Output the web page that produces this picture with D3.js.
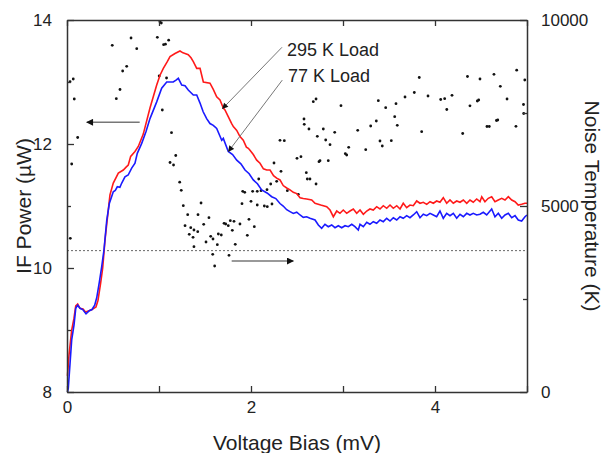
<html>
  <head>
    <title>IF power and noise temperature</title>
    <meta charset="utf-8" />
    <script src="https://cdnjs.cloudflare.com/ajax/libs/d3/7.6.1/d3.min.js"></script>
    <style>
      body { margin: 0; background: #fff; }
      svg { width: 606px; height: 453px; font-family: "Liberation Sans", Arial, sans-serif; }
      .axis path, .axis line { stroke: #333; }
      .axis path { stroke-width: 1.5; }
      .axis text { font-size: 17px; fill: #222; font-family: "Liberation Sans", Arial, sans-serif; }
    </style>
  </head>
  <body>
    <svg></svg>
  </body>

  <script>
    // IF power (uW) vs bias voltage (mV), 295 K load
    let hotLoad = [
      [0.005, 8.26], [0.022, 8.6], [0.051, 9.0], [0.076, 9.19], [0.095, 9.39], [0.116, 9.42],
      [0.141, 9.35], [0.174, 9.34], [0.201, 9.29], [0.239, 9.31], [0.272, 9.33], [0.315, 9.37],
      [0.337, 9.48], [0.366, 9.76], [0.388, 10.0], [0.413, 10.45], [0.449, 10.94], [0.467, 11.18],
      [0.503, 11.37], [0.558, 11.53], [0.612, 11.58], [0.645, 11.63], [0.666, 11.66], [0.692, 11.8],
      [0.739, 11.88], [0.775, 11.96], [0.829, 12.16], [0.902, 12.58], [0.975, 12.95], [1.011, 13.11],
      [1.047, 13.22], [1.087, 13.32], [1.12, 13.41], [1.174, 13.46], [1.228, 13.5], [1.261, 13.47],
      [1.283, 13.46], [1.318, 13.44], [1.348, 13.39], [1.373, 13.33], [1.41, 13.22], [1.446, 13.22],
      [1.482, 13.0], [1.554, 12.98], [1.59, 12.88], [1.627, 12.76], [1.663, 12.71], [1.699, 12.58],
      [1.717, 12.55], [1.75, 12.45], [1.79, 12.33], [1.808, 12.28], [1.845, 12.22], [1.88, 12.12],
      [1.916, 12.06], [1.95, 11.95], [1.971, 11.93], [1.989, 11.9], [2.025, 11.83], [2.062, 11.74],
      [2.098, 11.69], [2.135, 11.6], [2.171, 11.58], [2.207, 11.58], [2.245, 11.49], [2.279, 11.45],
      [2.315, 11.42], [2.35, 11.33], [2.388, 11.29], [2.424, 11.26], [2.46, 11.22], [2.497, 11.2],
      [2.533, 11.134], [2.568, 11.12], [2.605, 11.113], [2.66, 11.097], [2.696, 11.044], [2.758, 11.016],
      [2.823, 10.989], [2.859, 10.935], [2.895, 10.827], [2.932, 10.919], [2.967, 10.882], [3.003, 10.935],
      [3.04, 10.882], [3.076, 10.919], [3.112, 10.952], [3.149, 10.882], [3.185, 10.935], [3.221, 10.866],
      [3.258, 10.919], [3.293, 10.952], [3.329, 10.935], [3.366, 10.989], [3.402, 10.952], [3.438, 11.005],
      [3.475, 10.963], [3.511, 11.016], [3.547, 10.963], [3.584, 11.005], [3.62, 10.952], [3.655, 11.044],
      [3.692, 10.973], [3.728, 11.016], [3.764, 11.005], [3.801, 11.081], [3.837, 11.044], [3.873, 11.06],
      [3.91, 11.027], [3.946, 11.069], [3.982, 11.044], [4.018, 11.081], [4.054, 11.06], [4.09, 11.134],
      [4.127, 11.044], [4.163, 11.097], [4.199, 11.044], [4.236, 11.081], [4.272, 11.06], [4.308, 11.097],
      [4.345, 11.044], [4.38, 11.097], [4.416, 11.06], [4.453, 11.113], [4.489, 11.069], [4.508, 11.15],
      [4.543, 11.069], [4.579, 11.124], [4.616, 11.15], [4.652, 11.069], [4.688, 11.097], [4.725, 11.124],
      [4.761, 11.097], [4.797, 11.15], [4.834, 11.097], [4.87, 11.069], [4.905, 11.016], [4.942, 11.027],
      [4.978, 11.044], [5.0, 11.044]
    ];

    // IF power (uW) vs bias voltage (mV), 77 K load
    let coldLoad = [
      [0.005, 8.0], [0.014, 8.06], [0.051, 8.84], [0.076, 9.08], [0.095, 9.35], [0.116, 9.4],
      [0.141, 9.35], [0.171, 9.33], [0.207, 9.26], [0.242, 9.31], [0.272, 9.33], [0.301, 9.4],
      [0.323, 9.52], [0.351, 9.77], [0.377, 10.02], [0.402, 10.29], [0.432, 10.77], [0.46, 11.04],
      [0.503, 11.23], [0.525, 11.25], [0.547, 11.31], [0.575, 11.3], [0.595, 11.37], [0.63, 11.47],
      [0.665, 11.5], [0.703, 11.61], [0.739, 11.69], [0.764, 11.85], [0.812, 12.01], [0.859, 12.2],
      [0.902, 12.41], [0.975, 12.68], [1.029, 12.9], [1.084, 13.0], [1.12, 13.0], [1.155, 13.0],
      [1.185, 13.03], [1.21, 13.06], [1.247, 12.95], [1.283, 12.94], [1.318, 12.87], [1.373, 12.79],
      [1.41, 12.79], [1.446, 12.66], [1.48, 12.52], [1.518, 12.41], [1.554, 12.33], [1.59, 12.3],
      [1.627, 12.25], [1.682, 12.06], [1.699, 12.09], [1.753, 11.88], [1.8, 11.83], [1.845, 11.74],
      [1.89, 11.68], [1.935, 11.58], [1.98, 11.52], [2.025, 11.42], [2.07, 11.36], [2.116, 11.26],
      [2.174, 11.21], [2.225, 11.15], [2.27, 11.12], [2.315, 11.04], [2.35, 11.0], [2.388, 10.94],
      [2.424, 10.91], [2.46, 10.88], [2.497, 10.9], [2.533, 10.855], [2.568, 10.818], [2.605, 10.827],
      [2.641, 10.802], [2.696, 10.774], [2.732, 10.694], [2.768, 10.64], [2.804, 10.705], [2.84, 10.666],
      [2.877, 10.694], [2.913, 10.65], [2.949, 10.682], [2.986, 10.65], [3.022, 10.682], [3.058, 10.666],
      [3.095, 10.705], [3.13, 10.666], [3.166, 10.613], [3.185, 10.705], [3.221, 10.666], [3.258, 10.737],
      [3.293, 10.705], [3.329, 10.747], [3.366, 10.721], [3.402, 10.774], [3.438, 10.747], [3.475, 10.802],
      [3.511, 10.758], [3.547, 10.811], [3.584, 10.774], [3.62, 10.827], [3.655, 10.802], [3.692, 10.844],
      [3.728, 10.811], [3.764, 10.855], [3.801, 10.908], [3.837, 10.811], [3.873, 10.866], [3.91, 10.844],
      [3.946, 10.882], [3.982, 10.855], [4.018, 10.827], [4.054, 10.919], [4.09, 10.802], [4.127, 10.882],
      [4.163, 10.844], [4.199, 10.882], [4.236, 10.802], [4.272, 10.866], [4.308, 10.827], [4.345, 10.882],
      [4.38, 10.855], [4.416, 10.882], [4.453, 10.855], [4.489, 10.866], [4.525, 10.898], [4.562, 10.855],
      [4.616, 10.952], [4.652, 10.827], [4.688, 10.882], [4.725, 10.802], [4.761, 10.855], [4.797, 10.882],
      [4.834, 10.811], [4.87, 10.844], [4.905, 10.774], [4.942, 10.758], [4.978, 10.827], [5.0, 10.855]
    ];

    // noise temperature (K) vs bias voltage (mV)
    let noiseTemp = [
      [0.033, 8341], [0.068, 8414], [0.079, 7876], [0.116, 6841], [0.051, 6129], [0.036, 4132],
      [0.492, 9320], [0.696, 9516], [0.758, 9228], [0.649, 8755], [0.605, 8629], [0.576, 8132],
      [0.536, 7884], [0.982, 9535], [1.01, 9950], [1.025, 9920], [1.05, 9336], [1.07, 9350],
      [1.105, 9457], [1.002, 8494], [1.082, 8441], [1.036, 7581], [1.136, 6970], [1.182, 6357],
      [1.12, 6169], [1.158, 6102], [1.225, 5640], [1.242, 5422], [1.264, 5008], [1.312, 4766],
      [1.283, 4470], [1.345, 4417], [1.38, 4355], [1.421, 4309], [1.329, 4239], [1.37, 4159],
      [1.38, 3906], [1.424, 4766], [1.457, 5080], [1.543, 4685], [1.486, 4508], [1.707, 4535],
      [1.725, 4516], [1.753, 4470], [1.775, 4605], [1.815, 4589], [1.88, 4516], [1.978, 4642],
      [2.036, 4443], [1.797, 4347], [1.645, 4247], [1.677, 4220], [1.562, 4185], [1.96, 4212],
      [1.511, 4032], [1.587, 4113], [1.634, 3960], [1.829, 3970], [1.761, 3675], [1.584, 3702],
      [1.605, 3387], [1.902, 5062], [2.0, 5126], [2.068, 5027], [2.145, 5000], [2.177, 4981],
      [2.228, 5054], [1.91, 5395], [1.932, 5368], [2.018, 5395], [2.068, 5395], [2.109, 5411],
      [2.174, 5438], [2.395, 5411], [2.514, 5314], [2.084, 5726], [2.214, 5591], [2.279, 5664],
      [2.707, 5591], [2.612, 5726], [2.641, 5726], [2.601, 5895], [2.326, 5933], [2.25, 6156],
      [2.5, 6282], [2.543, 6325], [2.739, 6191], [2.315, 6766], [2.362, 6755], [2.812, 6774],
      [2.721, 6873], [2.63, 7070], [2.786, 7070], [2.579, 7196], [2.576, 7339], [2.677, 7804],
      [2.707, 7876], [2.75, 6218], [2.84, 6218], [2.859, 6648], [2.91, 6981], [2.978, 7696],
      [3.025, 6406], [3.04, 6371], [3.062, 6578], [3.16, 7035], [3.247, 6513], [3.301, 7150],
      [3.362, 7285], [3.384, 7831], [3.402, 6747], [3.427, 6613], [3.464, 7642], [3.525, 6755],
      [3.562, 7400], [3.576, 7750], [3.59, 7169], [3.674, 7930], [3.775, 8051], [3.829, 8454],
      [3.855, 6997], [3.924, 7957], [4.062, 7863], [4.105, 7884], [4.128, 7594], [4.185, 7975],
      [4.301, 6949], [4.353, 8481], [4.38, 7693], [4.46, 7823], [4.475, 7849], [4.489, 8414],
      [4.565, 7137], [4.59, 7137], [4.641, 8540], [4.668, 7298], [4.682, 7312], [4.71, 8218],
      [4.783, 7876], [4.88, 7142], [4.888, 8650], [4.976, 8387], [4.962, 7728], [4.964, 7486]
    ];

    let xTicks = [0, 1, 2, 3, 4, 5];
    let xLabels = [0, 2, 4];
    let powerTicks = [8, 9, 10, 11, 12, 13, 14];
    let powerLabels = [8, 10, 12, 14];
    let tempTicks = [0, 2500, 5000, 7500, 10000];
    let tempLabels = [0, 5000, 10000];
    let refTemp = 3800;

    let svg = d3.select("svg");
    let xScale = d3.scaleLinear().domain([0, 5]).range([67, 527]);
    let yPower = d3.scaleLinear().domain([8, 14]).range([392, 20]);
    let yTemp = d3.scaleLinear().domain([0, 10000]).range([392, 20]);

    // dotted reference line
    svg.append("line")
      .attr("x1", xScale(0)).attr("x2", xScale(5))
      .attr("y1", yTemp(refTemp)).attr("y2", yTemp(refTemp))
      .style("stroke", "#666").style("stroke-width", 1)
      .style("stroke-dasharray", "2,2");

    // noise temperature dots
    svg.append("g")
      .selectAll("circle")
      .data(noiseTemp)
      .enter()
      .append("circle")
      .attr("cx", (d) => xScale(d[0]))
      .attr("cy", (d) => yTemp(d[1]))
      .attr("r", 1.4)
      .style("fill", "#111");

    let line = d3.line().x((d) => xScale(d[0])).y((d) => yPower(d[1]));

    svg.append("path").datum(hotLoad).attr("d", line)
      .style("fill", "none").style("stroke", "#ff1a1a").style("stroke-width", 1.6);
    svg.append("path").datum(coldLoad).attr("d", line)
      .style("fill", "none").style("stroke", "#1a1aff").style("stroke-width", 1.6);

    // axes, ticks pointing inward
    function addAxis(axis, transform) {
      let g = svg.append("g").attr("class", "axis").attr("transform", transform).call(axis);
      g.selectAll(".tick line").style("stroke-width", 1.3);
      return g;
    }
    let fmt = (labels) => (d) => (labels.includes(d) ? d : "");

    addAxis(d3.axisBottom(xScale).tickValues(xTicks).tickSize(-6).tickSizeOuter(0)
      .tickPadding(9).tickFormat(fmt(xLabels)), "translate(0,392)");
    addAxis(d3.axisTop(xScale).tickValues(xTicks).tickSize(-6).tickSizeOuter(0)
      .tickFormat(""), "translate(0,20)");
    let left = addAxis(d3.axisLeft(yPower).tickValues(powerTicks).tickSizeOuter(0)
      .tickPadding(9).tickFormat(fmt(powerLabels)), "translate(67,0)");
    left.selectAll(".tick line").attr("x2", (d) => (powerLabels.includes(d) ? 7 : 4));
    let right = addAxis(d3.axisRight(yTemp).tickValues(tempTicks).tickSizeOuter(0)
      .tickPadding(8).tickFormat(fmt(tempLabels)), "translate(527,0)");
    right.selectAll(".tick line").attr("x2", (d) => (tempLabels.includes(d) ? -7 : -4));

    // arrows
    let defs = svg.append("defs");
    defs.append("marker")
      .attr("id", "head").attr("viewBox", "0 0 10 10")
      .attr("refX", 9).attr("refY", 5)
      .attr("markerWidth", 10).attr("markerHeight", 7)
      .attr("markerUnits", "userSpaceOnUse")
      .attr("orient", "auto")
      .append("path").attr("d", "M0,0L10,5L0,10z").style("fill", "#111");
    defs.append("marker")
      .attr("id", "smallhead").attr("viewBox", "0 0 10 10")
      .attr("refX", 9).attr("refY", 5)
      .attr("markerWidth", 8).attr("markerHeight", 6)
      .attr("markerUnits", "userSpaceOnUse")
      .attr("orient", "auto")
      .append("path").attr("d", "M0,0L10,5L0,10z").style("fill", "#111");

    let arrows = [
      { x1: 0.79, y1: yPower(12.35), x2: 0.215, y2: yPower(12.35), m: "head", w: 1.6 },
      { x1: 1.79, y1: yTemp(3520), x2: 2.46, y2: yTemp(3520), m: "head", w: 1.6 },
      { x1: 2.337, y1: yPower(13.56), x2: 1.69, y2: yPower(12.57), m: "smallhead", w: 1 },
      { x1: 2.34, y1: yPower(13.03), x2: 1.755, y2: yPower(11.88), m: "smallhead", w: 1 }
    ];
    svg.append("g")
      .selectAll("line")
      .data(arrows)
      .enter()
      .append("line")
      .attr("x1", (d) => xScale(d.x1)).attr("y1", (d) => d.y1)
      .attr("x2", (d) => xScale(d.x2)).attr("y2", (d) => d.y2)
      .style("stroke", "#777").style("stroke-width", (d) => d.w)
      .attr("marker-end", (d) => `url(#${d.m})`);

    svg.append("text").attr("x", 287).attr("y", 56)
      .style("font-size", "18px").style("fill", "#222").text("295 K Load");
    svg.append("text").attr("x", 288).attr("y", 82)
      .style("font-size", "18px").style("fill", "#222").text("77 K Load");

    // axis titles
    svg.append("text").attr("x", 297).attr("y", 450)
      .attr("text-anchor", "middle")
      .style("font-size", "21px").style("fill", "#222").text("Voltage Bias (mV)");
    svg.append("text").attr("transform", "translate(31,206) rotate(-90)")
      .attr("text-anchor", "middle")
      .style("font-size", "21px").style("fill", "#222").text("IF Power (\u00b5W)");
    svg.append("text").attr("transform", "translate(585,206) rotate(90)")
      .attr("text-anchor", "middle")
      .style("font-size", "21px").style("fill", "#222").text("Noise Temperature (K)");
  </script>
</html>
